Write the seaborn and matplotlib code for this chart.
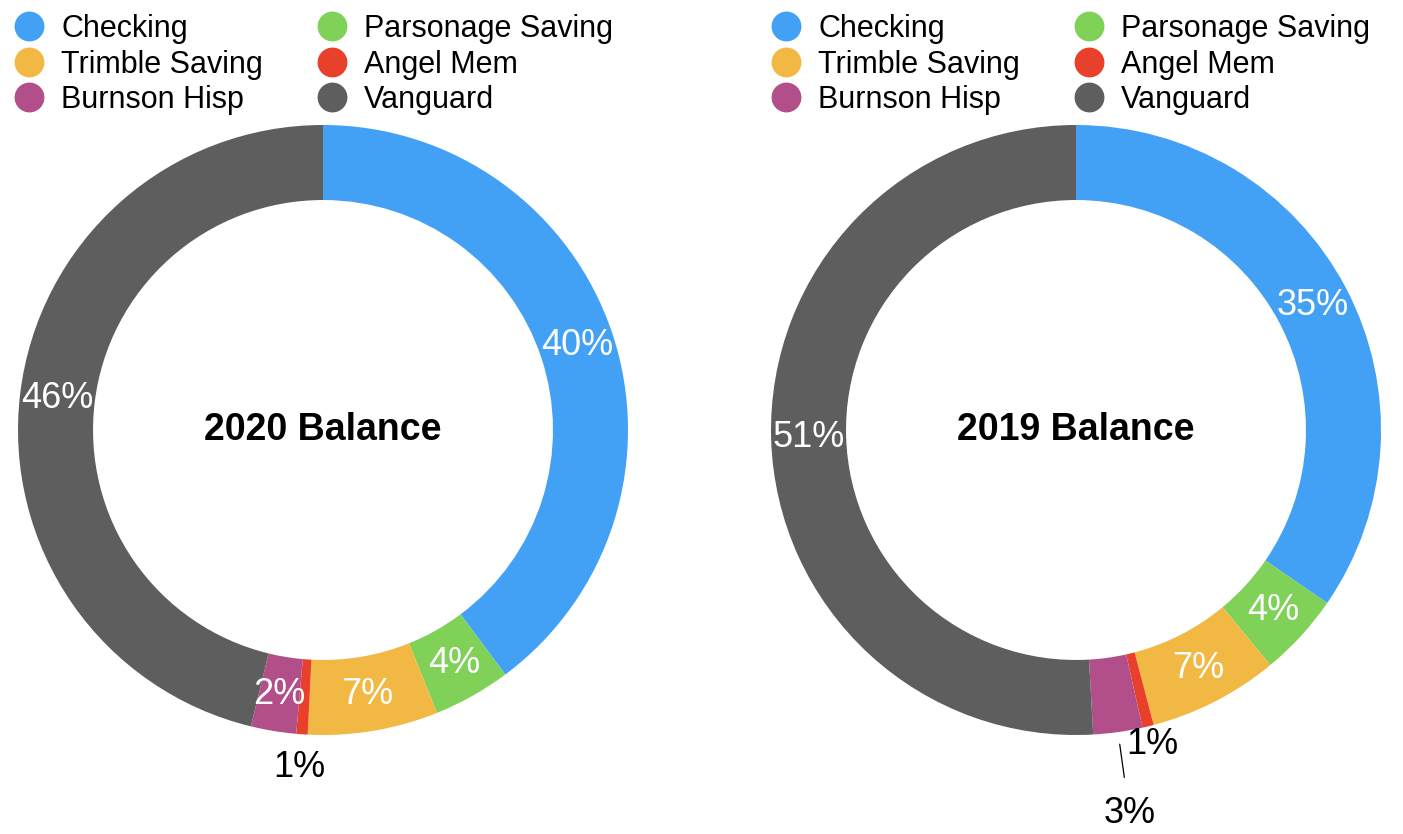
import numpy as np
import seaborn as sns
import matplotlib.pyplot as plt
from matplotlib.lines import Line2D

sns.set_theme(style="white")
plt.rcParams['font.family'] = ['Liberation Sans', 'DejaVu Sans']
plt.rcParams['text.color'] = 'black'

# data
accounts = ["Checking", "Parsonage Saving", "Trimble Saving", "Angel Mem", "Burnson Hisp", "Vanguard"]
balance_2020 = [39.8, 4.1, 6.9, 0.6, 2.4, 46.2]
balance_2019 = [34.6, 4.4, 6.9, 0.6, 2.6, 50.9]
titles = ["2020 Balance", "2019 Balance"]
colors = ["#43A1F5", "#80D158", "#F1B943", "#E8402A", "#B24F8B", "#5E5E5E"]

# legend order (two columns, filled column-wise)
legend_order = [0, 2, 4, 1, 3, 5]

W, H = 1403, 834
fig = plt.figure(figsize=(W / 100, H / 100), dpi=100)

R_PX = 305
AX_PX = 640
lim = AX_PX / 2 / R_PX

# label placement per slice: inside (white) or outside (black), "lead" adds a leader line
placement = {
    0: [("in",), ("in",), ("in",), ("out", 1.11), ("in",), ("in",)],
    1: [("in",), ("in",), ("in",), ("out", 1.06), ("lead", 1.27), ("in",)],
}

centers = [(323, 430), (1076, 430)]

for k, (vals, title) in enumerate(zip([balance_2020, balance_2019], titles)):
    cx, cy = centers[k]
    ax = fig.add_axes([(cx - AX_PX / 2) / W, (H - cy - AX_PX / 2) / H, AX_PX / W, AX_PX / H])
    wedges, _ = ax.pie(vals, colors=colors, startangle=90, counterclock=False, radius=1,
                       wedgeprops=dict(width=0.246, edgecolor="none", linewidth=0))
    ax.set_xlim(-lim, lim)
    ax.set_ylim(-lim, lim)
    ax.set_aspect("equal")
    ax.axis("off")

    for i, w in enumerate(wedges):
        ang = np.deg2rad((w.theta1 + w.theta2) / 2)
        txt = f"{round(vals[i])}%"
        p = placement[k][i]
        if p[0] == "in":
            r, c = 0.878, "white"
        else:
            r, c = p[1], "black"
        if p[0] == "lead":
            ax.plot([1.04 * np.cos(ang), 1.15 * np.cos(ang)],
                    [1.04 * np.sin(ang), 1.15 * np.sin(ang)], color="black", lw=0.9, clip_on=False)
        ax.text(r * np.cos(ang), r * np.sin(ang), txt, ha="center", va="center",
                fontsize=26, color=c)

    ax.text(0, 0, title, ha="center", va="center", fontsize=27, fontweight="bold", color="black")

    handles = [Line2D([], [], marker="o", linestyle="none", markersize=21.5,
                      markerfacecolor=colors[j], markeredgecolor="none") for j in legend_order]
    labels = [accounts[j] for j in legend_order]
    lx = 14 if k == 0 else 771
    fig.legend(handles, labels, loc="upper left", bbox_to_anchor=(lx / W, (H - 14) / H),
               ncol=2, frameon=False, fontsize=22, borderpad=0, borderaxespad=0,
               handlelength=1.0, handletextpad=0.55, columnspacing=1.75, labelspacing=0.18,
               labelcolor="black")

fig.savefig("out.png", dpi=100)
